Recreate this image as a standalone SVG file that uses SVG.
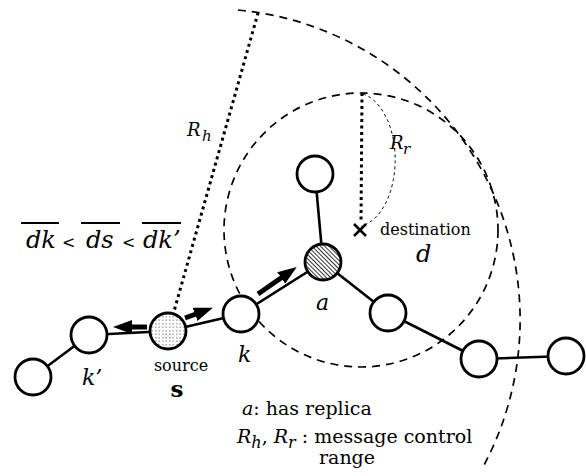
<svg xmlns="http://www.w3.org/2000/svg" width="586" height="476" viewBox="0 0 586 476">
<style>
.node{fill:#fff;stroke:#000;stroke-width:2.8}
.edge{stroke:#000;stroke-width:2.6;fill:none}
.range{fill:none;stroke:#000;stroke-width:1.7;stroke-dasharray:8 6}
.dot{fill:none;stroke:#000;stroke-width:3;stroke-dasharray:3 3.5}
.arrow{stroke:#000;stroke-width:5;fill:none;marker-end:url(#head)}
text{font-family:"DejaVu Serif","Liberation Serif",serif;fill:#000}
.it{font-style:italic}
</style>
<defs>
<marker id="head" markerUnits="userSpaceOnUse" markerWidth="20" markerHeight="14" refX="1" refY="7" orient="auto">
<path d="M0,0 L19,7 L0,14 z" fill="#000"/>
</marker>
<pattern id="hatch" patternUnits="userSpaceOnUse" width="3" height="3" patternTransform="rotate(45)">
<rect width="3" height="3" fill="#fff"/>
<line x1="0" y1="1.5" x2="3" y2="1.5" stroke="#333" stroke-width="1"/>
</pattern>
<pattern id="dots" patternUnits="userSpaceOnUse" width="3.5" height="3.5">
<rect width="3.5" height="3.5" fill="#fff"/>
<circle cx="1.75" cy="1.75" r="0.55" fill="#333"/>
</pattern>
</defs>

<g id="ranges">
<path class="range" d="M238,10 A311,311 0 0 1 483,467"/>
<circle class="range" cx="361" cy="230" r="137"/>
<path d="M363,94 A40,67 0 0 1 361,226" fill="none" stroke="#000" stroke-width="1" stroke-dasharray="3 3"/>
<line class="dot" x1="171" y1="322" x2="258" y2="13"/>
<line class="dot" x1="362" y1="93" x2="361" y2="223"/>
</g>

<g id="connectors">
<line class="edge" x1="33" y1="377" x2="89" y2="335"/>
<line class="edge" x1="89" y1="335" x2="168" y2="331"/>
<line class="edge" x1="168" y1="331" x2="241" y2="314"/>
<line class="edge" x1="241" y1="314" x2="323" y2="262"/>
<line class="edge" x1="323" y1="262" x2="315" y2="174"/>
<line class="edge" x1="323" y1="262" x2="388" y2="313"/>
<line class="edge" x1="388" y1="313" x2="479" y2="359"/>
<line class="edge" x1="479" y1="359" x2="566" y2="356"/>
</g>

<g id="arrows">
<line class="arrow" x1="147" y1="327" x2="131" y2="327"/>
<line class="arrow" x1="185" y1="318" x2="196" y2="314"/>
<line class="arrow" x1="258" y1="294" x2="282" y2="277.3"/>
</g>

<g id="node-left"><circle class="node" cx="33" cy="377" r="18"/></g>
<g id="node-kprime"><circle class="node" cx="89" cy="335" r="18"/><text class="it" x="82" y="385" font-size="22">k’</text></g>
<g id="node-source"><circle class="node" cx="168" cy="331" r="18" style="fill:url(#dots)"/>
<text x="181" y="371" font-size="16" text-anchor="middle">source</text>
<text x="177" y="397" font-size="23" font-weight="bold" text-anchor="middle">s</text></g>
<g id="node-k"><circle class="node" cx="241" cy="314" r="18"/><text class="it" x="238" y="362" font-size="22">k</text></g>
<g id="node-a"><circle class="node" cx="323" cy="262" r="18" style="fill:url(#hatch)"/><text class="it" x="316" y="310" font-size="22">a</text></g>
<g id="node-top"><circle class="node" cx="315" cy="174" r="18"/></g>
<g id="node-r1"><circle class="node" cx="388" cy="313" r="18"/></g>
<g id="node-r2"><circle class="node" cx="479" cy="359" r="18"/></g>
<g id="node-r3"><circle class="node" cx="566" cy="356" r="18"/></g>

<g id="destination">
<path d="M354,224 L366,236 M366,224 L354,236" stroke="#000" stroke-width="2.6"/>
<text x="380" y="235" font-size="16">destination</text>
<text class="it" x="416" y="262" font-size="24">d</text>
</g>

<g id="labels">
<text class="it" x="187" y="136" font-size="18">R</text>
<text class="it" x="202" y="141" font-size="15">h</text>
<text class="it" x="390" y="149" font-size="18">R</text>
<text class="it" x="403" y="154" font-size="15">r</text>

<text class="it" x="26" y="248" font-size="24">dk</text>
<text x="62" y="248" font-size="16">&lt;</text>
<text class="it" x="86" y="248" font-size="24">ds</text>
<text x="122" y="248" font-size="16">&lt;</text>
<text class="it" x="143" y="248" font-size="24">dk’</text>
<path d="M21,223 H59 M81,223 H120 M142,223 H181" stroke="#000" stroke-width="2"/>

<text x="242" y="415" font-size="19"><tspan class="it">a</tspan>: has replica</text>
<text x="237" y="443" font-size="19"><tspan class="it">R</tspan><tspan class="it" font-size="16" dy="5">h</tspan><tspan dy="-5">, </tspan><tspan class="it">R</tspan><tspan class="it" font-size="16" dy="5">r</tspan><tspan dy="-5"> : message control</tspan></text>
<text x="347" y="464" font-size="19" text-anchor="middle">range</text>
</g>
</svg>
